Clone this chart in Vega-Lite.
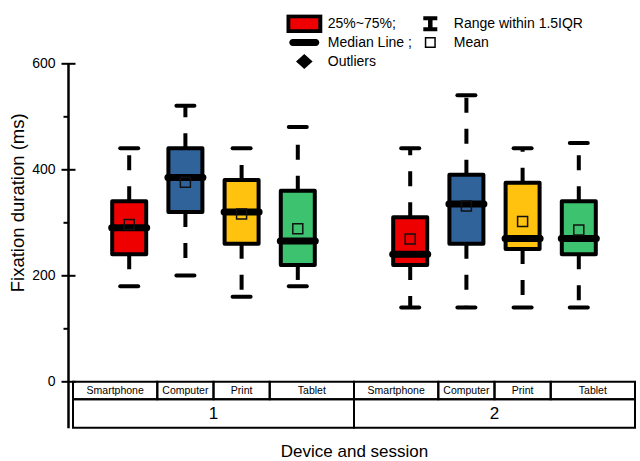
{
  "$schema": "https://vega.github.io/schema/vega-lite/v6.json",
  "width": 572,
  "height": 364.4,
  "autosize": {"type": "none"},
  "padding": {"left": 68, "top": 63.3, "right": 0, "bottom": 33.3},
  "background": "white",
  "datasets": {
    "boxes": [
      {"session": "1", "device": "Smartphone", "pos": 1, "min": 180, "q1": 240, "median": 290, "q3": 340, "max": 440, "mean": 296},
      {"session": "1", "device": "Computer", "pos": 2, "min": 200, "q1": 320, "median": 385, "q3": 440, "max": 520, "mean": 376},
      {"session": "1", "device": "Print", "pos": 3, "min": 160, "q1": 260, "median": 320, "q3": 380, "max": 440, "mean": 316},
      {"session": "1", "device": "Tablet", "pos": 4, "min": 180, "q1": 220, "median": 265, "q3": 360, "max": 480, "mean": 288},
      {"session": "2", "device": "Smartphone", "pos": 6, "min": 140, "q1": 220, "median": 240, "q3": 310, "max": 440, "mean": 269},
      {"session": "2", "device": "Computer", "pos": 7, "min": 140, "q1": 260, "median": 335, "q3": 390, "max": 540, "mean": 331},
      {"session": "2", "device": "Print", "pos": 8, "min": 140, "q1": 250, "median": 270, "q3": 375, "max": 440, "mean": 302},
      {"session": "2", "device": "Tablet", "pos": 9, "min": 140, "q1": 240, "median": 270, "q3": 340, "max": 450, "mean": 286}
    ],
    "cells": [
      {"label": "Smartphone", "lo": 0, "hi": 1.5},
      {"label": "Computer", "lo": 1.5, "hi": 2.5},
      {"label": "Print", "lo": 2.5, "hi": 3.5},
      {"label": "Tablet", "lo": 3.5, "hi": 5},
      {"label": "Smartphone", "lo": 5, "hi": 6.5},
      {"label": "Computer", "lo": 6.5, "hi": 7.5},
      {"label": "Print", "lo": 7.5, "hi": 8.5},
      {"label": "Tablet", "lo": 8.5, "hi": 10}
    ],
    "sessions": [
      {"label": "1", "lo": 0, "hi": 5},
      {"label": "2", "lo": 5, "hi": 10}
    ],
    "legendItems": [
      {"item": "25%~75%;"},
      {"item": "Range within 1.5IQR"},
      {"item": "Median Line ;"},
      {"item": "Mean"},
      {"item": "Outliers"}
    ]
  },
  "layer": [
    {
      "data": {"name": "cells"},
      "mark": {"type": "rect", "fill": "transparent", "stroke": "black", "strokeWidth": 2},
      "encoding": {
        "x": {"field": "lo", "type": "quantitative", "title": "Device and session", "scale": {"domain": [0, 10], "nice": false, "zero": false}},
        "x2": {"field": "hi"},
        "y": {"datum": 0, "type": "quantitative", "scale": {"domain": [-86.7, 600], "nice": false, "zero": false}, "axis": null},
        "y2": {"datum": -33.2}
      }
    },
    {
      "data": {"name": "sessions"},
      "mark": {"type": "rect", "fill": "transparent", "stroke": "black", "strokeWidth": 2},
      "encoding": {
        "x": {"field": "lo", "type": "quantitative", "title": "Device and session", "scale": {"domain": [0, 10], "nice": false, "zero": false}},
        "x2": {"field": "hi"},
        "y": {"datum": -33.2, "type": "quantitative", "scale": {"domain": [-86.7, 600], "nice": false, "zero": false}, "axis": null},
        "y2": {"datum": -86.7}
      }
    },
    {
      "data": {"name": "cells"},
      "transform": [{"calculate": "(datum.lo + datum.hi) / 2", "as": "mid"}],
      "mark": {"type": "text", "fontSize": 10.5, "font": "Liberation Sans", "color": "black", "baseline": "middle", "align": "center"},
      "encoding": {
        "x": {"field": "mid", "type": "quantitative", "title": "Device and session", "scale": {"domain": [0, 10], "nice": false, "zero": false}},
        "y": {"datum": -16.6, "type": "quantitative", "scale": {"domain": [-86.7, 600], "nice": false, "zero": false}, "axis": null},
        "text": {"field": "label"}
      }
    },
    {
      "data": {"name": "sessions"},
      "transform": [{"calculate": "(datum.lo + datum.hi) / 2", "as": "mid"}],
      "mark": {"type": "text", "fontSize": 17, "font": "Liberation Sans", "color": "black", "baseline": "middle", "align": "center"},
      "encoding": {
        "x": {"field": "mid", "type": "quantitative", "title": "Device and session", "scale": {"domain": [0, 10], "nice": false, "zero": false}},
        "y": {"datum": -60, "type": "quantitative", "scale": {"domain": [-86.7, 600], "nice": false, "zero": false}, "axis": null},
        "text": {"field": "label"}
      }
    },
    {
      "data": {"name": "boxes"},
      "mark": {"type": "rule", "stroke": "black", "strokeWidth": 4, "strokeDash": [15, 16]},
      "encoding": {
        "x": {"field": "pos", "type": "quantitative", "title": "Device and session", "scale": {"domain": [0, 10], "nice": false, "zero": false}},
        "y": {"field": "q3", "type": "quantitative", "scale": {"domain": [-86.7, 600], "nice": false, "zero": false},
              "axis": {"orient": "left", "values": [100, 300, 500], "tickSize": 5, "tickWidth": 2, "tickColor": "black", "domain": true, "domainColor": "black", "domainWidth": 2.5, "labels": false, "title": null, "grid": false}},
        "y2": {"field": "max"}
      }
    },
    {
      "data": {"name": "boxes"},
      "mark": {"type": "rule", "stroke": "black", "strokeWidth": 4, "strokeDash": [15, 16]},
      "encoding": {
        "x": {"field": "pos", "type": "quantitative", "title": "Device and session", "scale": {"domain": [0, 10], "nice": false, "zero": false}},
        "y": {"field": "q1", "type": "quantitative", "scale": {"domain": [-86.7, 600], "nice": false, "zero": false},
              "axis": {"orient": "left", "values": [0, 200, 400, 600], "offset": -7, "tickSize": 14, "tickWidth": 2, "tickColor": "black", "domain": false, "labelFontSize": 14, "labelFont": "Liberation Sans", "labelPadding": 6, "labelColor": "black", "title": "Fixation duration (ms)", "titleFont": "Liberation Sans", "titleFontSize": 18.5, "titlePadding": 4, "titleFontWeight": "normal", "titleColor": "black", "titleY": 139, "grid": false}},
        "y2": {"field": "min"}
      }
    },
    {
      "data": {"name": "boxes"},
      "mark": {"type": "rule", "stroke": "black", "strokeWidth": 4, "strokeCap": "round", "xOffset": -9, "x2Offset": 9},
      "encoding": {
        "x": {"field": "pos", "type": "quantitative", "title": "Device and session", "scale": {"domain": [0, 10], "nice": false, "zero": false}},
        "x2": {"field": "pos"},
        "y": {"field": "max", "type": "quantitative", "scale": {"domain": [-86.7, 600], "nice": false, "zero": false}, "axis": null}
      }
    },
    {
      "data": {"name": "boxes"},
      "mark": {"type": "rule", "stroke": "black", "strokeWidth": 4, "strokeCap": "round", "xOffset": -9, "x2Offset": 9},
      "encoding": {
        "x": {"field": "pos", "type": "quantitative", "title": "Device and session", "scale": {"domain": [0, 10], "nice": false, "zero": false}},
        "x2": {"field": "pos"},
        "y": {"field": "min", "type": "quantitative", "scale": {"domain": [-86.7, 600], "nice": false, "zero": false}, "axis": null}
      }
    },
    {
      "data": {"name": "boxes"},
      "mark": {"type": "bar", "size": 34, "stroke": "black", "strokeWidth": 4, "strokeJoin": "round"},
      "encoding": {
        "x": {"field": "pos", "type": "quantitative", "title": "Device and session", "scale": {"domain": [0, 10], "nice": false, "zero": false}},
        "y": {"field": "q1", "type": "quantitative", "scale": {"domain": [-86.7, 600], "nice": false, "zero": false}, "axis": null},
        "y2": {"field": "q3"},
        "color": {"field": "device", "type": "nominal", "legend": null,
                  "scale": {"domain": ["Smartphone", "Computer", "Print", "Tablet"], "range": ["#EE0000", "#31639B", "#FFC30F", "#3DC36F"]}}
      }
    },
    {
      "data": {"name": "boxes"},
      "mark": {"type": "rule", "stroke": "black", "strokeWidth": 7, "strokeCap": "round", "xOffset": -17.5, "x2Offset": 17.5},
      "encoding": {
        "x": {"field": "pos", "type": "quantitative", "title": "Device and session", "scale": {"domain": [0, 10], "nice": false, "zero": false}},
        "x2": {"field": "pos"},
        "y": {"field": "median", "type": "quantitative", "scale": {"domain": [-86.7, 600], "nice": false, "zero": false}, "axis": null}
      }
    },
    {
      "data": {"name": "boxes"},
      "mark": {"type": "point", "shape": "square", "size": 100, "filled": false, "stroke": "#111111", "strokeWidth": 1.5, "opacity": 1},
      "encoding": {
        "x": {"field": "pos", "type": "quantitative", "title": "Device and session", "scale": {"domain": [0, 10], "nice": false, "zero": false}},
        "y": {"field": "mean", "type": "quantitative", "scale": {"domain": [-86.7, 600], "nice": false, "zero": false}, "axis": null}
      }
    },
    {
      "data": {"name": "legendItems"},
      "mark": {"type": "point", "filled": true, "opacity": 0},
      "encoding": {
        "fill": {"field": "item", "type": "nominal", "title": null,
                 "scale": {"domain": ["25%~75%;", "Range within 1.5IQR", "Median Line ;", "Mean", "Outliers"], "range": ["#EE0000", "black", "black", "white", "black"]}},
        "stroke": {"field": "item", "type": "nominal", "title": null,
                   "scale": {"domain": ["25%~75%;", "Range within 1.5IQR", "Median Line ;", "Mean", "Outliers"], "range": ["black", "transparent", "transparent", "black", "transparent"]}},
        "strokeWidth": {"field": "item", "type": "nominal", "title": null,
                        "scale": {"type": "ordinal", "domain": ["25%~75%;", "Range within 1.5IQR", "Median Line ;", "Mean", "Outliers"], "range": [4, 0, 0, 1.5, 0]}},
        "shape": {"field": "item", "type": "nominal", "title": null,
                  "scale": {"domain": ["25%~75%;", "Range within 1.5IQR", "Median Line ;", "Mean", "Outliers"],
                            "range": [
                              "M-4,-1.875H4V1.875H-4Z",
                              "M-1.75,-1.875H1.75V-0.875H0.5625V0.875H1.75V1.875H-1.75V0.875H-0.5625V-0.875H-1.75Z",
                              "M-2.875,-0.875H2.875A0.875,0.875 0 0 1 2.875,0.875H-2.875A0.875,0.875 0 0 1 -2.875,-0.875Z",
                              "M-1.1875,-1.1875H1.1875V1.1875H-1.1875Z",
                              "M0,-1.875L2.075,0L0,1.875L-2.075,0Z"
                            ]}}
      }
    }
  ],
  "resolve": {"axis": {"y": "independent"}},
  "config": {
    "font": "Liberation Sans",
    "view": {"stroke": null},
    "axis": {"grid": false},
    "axisX": {"domain": false, "ticks": false, "labels": false, "grid": false, "titleFont": "Liberation Sans", "titleFontSize": 17, "titlePadding": 16, "titleFontWeight": "normal", "titleColor": "black"},
    "legend": {
      "orient": "none",
      "direction": "horizontal",
      "legendX": 218.3,
      "legendY": -49,
      "columns": 2,
      "padding": 0,
      "labelFont": "Liberation Sans",
      "labelFontSize": 14,
      "labelColor": "black",
      "labelOffset": 16.5,
      "symbolOffset": 11,
      "symbolSize": 64,
      "symbolOpacity": 1,
      "columnPadding": 0,
      "rowPadding": 0,
      "clipHeight": 18.5,
      "labelLimit": 300
    }
  }
}
